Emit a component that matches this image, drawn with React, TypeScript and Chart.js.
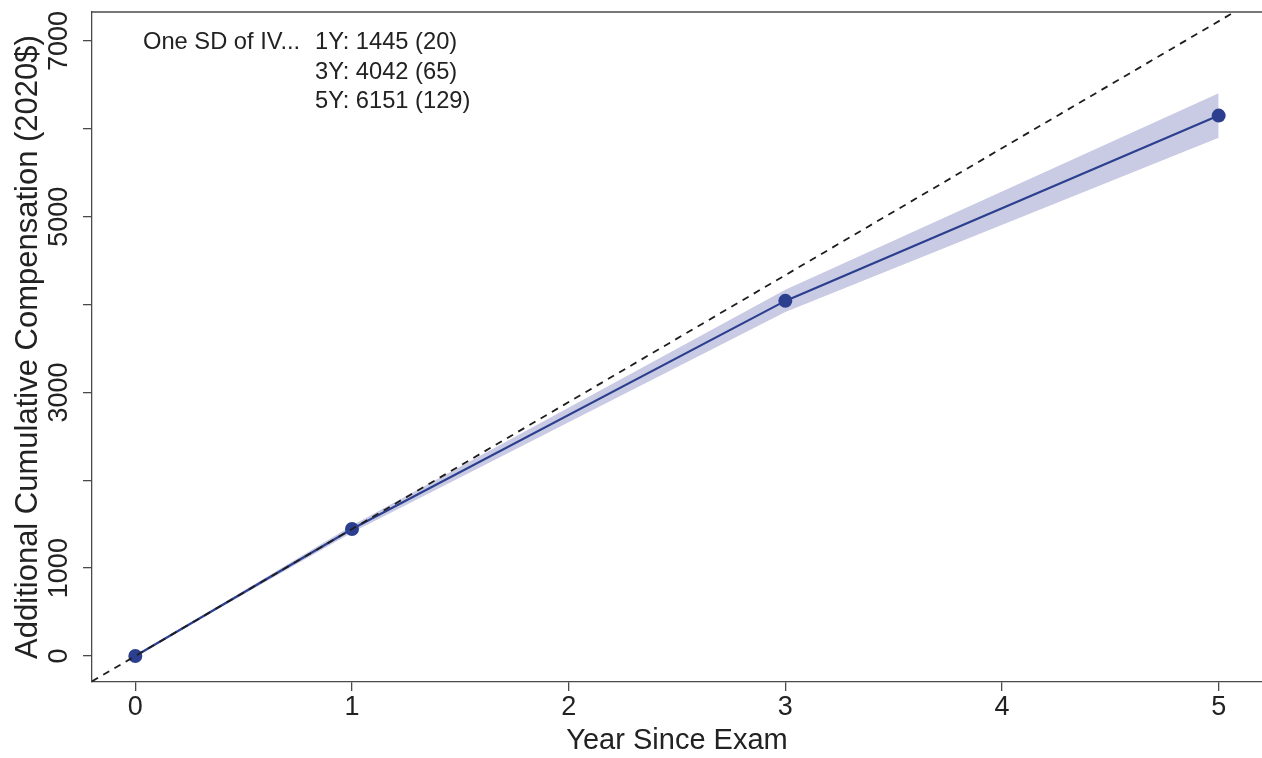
import React, { useEffect, useRef } from 'react';
import { Chart, registerables } from 'chart.js';

Chart.register(...registerables);

// ---- data ----
const years = [0, 1, 3, 5];
const estimates = [0, 1445, 4042, 6151];
const ciLower = [0, 1406, 3915, 5900];
const ciUpper = [0, 1484, 4169, 6404];

// 45-degree reference line (one SD per year), endpoints
const refLineX = [-0.2, 5.2];
const refLineY = [-289, 7514];

const xTicks = [0, 1, 2, 3, 4, 5];
const yTicks = [0, 1000, 2000, 3000, 4000, 5000, 6000, 7000];
const yTickLabels = [0, 1000, 3000, 5000, 7000];

const noteLabel = 'One SD of IV...';
const noteLines = ['1Y: 1445 (20)', '3Y: 4042 (65)', '5Y: 6151 (129)'];

const xTitle = 'Year Since Exam';
const yTitle = 'Additional Cumulative Compensation (2020$)';

const FONT = '"Liberation Sans", Arial, Helvetica, sans-serif';
const NAVY = '#2b3f8e';
const BAND = '#c9cae3';
const AXIS = '#4a4a4a';
const TEXT = '#222222';

const overlay = {
  id: 'overlay',
  afterDraw(chart: any) {
    const { ctx, chartArea, scales } = chart;
    ctx.save();
    ctx.strokeStyle = AXIS;
    ctx.lineWidth = 1.3;
    ctx.beginPath();
    ctx.moveTo(chartArea.left, chartArea.top);
    ctx.lineTo(chartArea.right, chartArea.top);
    ctx.stroke();

    ctx.fillStyle = TEXT;
    ctx.font = `27px ${FONT}`;
    ctx.textAlign = 'center';
    ctx.textBaseline = 'middle';
    yTickLabels.forEach((v) => {
      const y = scales.y.getPixelForValue(v);
      ctx.save();
      ctx.translate(60, y);
      ctx.rotate(-Math.PI / 2);
      ctx.fillText(String(v), 0, 0);
      ctx.restore();
    });

    ctx.font = `23.7px ${FONT}`;
    ctx.textAlign = 'left';
    ctx.textBaseline = 'alphabetic';
    const left = chartArea.left;
    const top = chartArea.top;
    ctx.fillText(noteLabel, left + 51, top + 37);
    noteLines.forEach((t, i) => {
      ctx.fillText(t, left + 223, top + 37 + i * 29.5);
    });
    ctx.restore();
  },
};

export default function App() {
  const ref = useRef<HTMLCanvasElement | null>(null);

  useEffect(() => {
    if (!ref.current) return;
    const chart = new Chart(ref.current, {
      type: 'line',
      data: {
        datasets: [
          {
            label: 'ref',
            data: refLineX.map((x, i) => ({ x, y: refLineY[i] })),
            borderColor: '#1e1e1e',
            borderWidth: 1.8,
            borderDash: [7, 6],
            pointRadius: 0,
            fill: false,
            order: 0,
          },
          {
            label: 'estimate',
            data: years.map((x, i) => ({ x, y: estimates[i] })),
            borderColor: NAVY,
            backgroundColor: NAVY,
            borderWidth: 2.2,
            pointRadius: 7,
            pointBackgroundColor: NAVY,
            pointBorderWidth: 0,
            fill: false,
            order: 1,
          },
          {
            label: 'upper',
            data: years.map((x, i) => ({ x, y: ciUpper[i] })),
            borderWidth: 0,
            borderColor: 'rgba(0,0,0,0)',
            backgroundColor: BAND,
            pointRadius: 0,
            fill: '+1',
            order: 2,
          },
          {
            label: 'lower',
            data: years.map((x, i) => ({ x, y: ciLower[i] })),
            borderWidth: 0,
            borderColor: 'rgba(0,0,0,0)',
            pointRadius: 0,
            fill: false,
            order: 3,
          },
        ],
      },
      options: {
        animation: false,
        responsive: false,
        events: [],
        layout: { autoPadding: false, padding: { top: 12, right: 0, left: 0, bottom: 0 } },
        plugins: {
          legend: { display: false },
          tooltip: { enabled: false },
        },
        scales: {
          x: {
            type: 'linear',
            min: -0.2,
            max: 5.2,
            afterBuildTicks: (scale: any) => {
              scale.ticks = xTicks.map((v) => ({ value: v }));
            },
            afterFit: (scale: any) => {
              scale.height = 76;
              scale.paddingLeft = 0;
              scale.paddingRight = 0;
            },
            ticks: {
              color: TEXT,
              font: { family: FONT, size: 27 },
              padding: 0,
              maxRotation: 0,
              autoSkip: false,
              callback: (v: any) => String(v),
            },
            grid: {
              drawOnChartArea: false,
              drawTicks: true,
              tickLength: 9,
              color: AXIS,
              lineWidth: 1.3,
            },
            border: { display: true, color: AXIS, width: 1.3 },
            title: {
              display: true,
              text: xTitle,
              color: TEXT,
              font: { family: FONT, size: 29 },
              padding: { top: 0, bottom: 0 },
            },
          },
          y: {
            type: 'linear',
            min: -296,
            max: 7330,
            afterBuildTicks: (scale: any) => {
              scale.ticks = yTicks.map((v) => ({ value: v }));
            },
            afterFit: (scale: any) => {
              scale.width = 92;
              scale.paddingTop = 0;
              scale.paddingBottom = 0;
            },
            ticks: { display: false },
            grid: {
              drawOnChartArea: false,
              drawTicks: true,
              tickLength: 9,
              color: AXIS,
              lineWidth: 1.3,
            },
            border: { display: true, color: AXIS, width: 1.3 },
            title: {
              display: true,
              text: yTitle,
              color: TEXT,
              font: { family: FONT, size: 31 },
              padding: { top: 10, bottom: 0 },
            },
          },
        },
      },
      plugins: [overlay],
    } as any);
    return () => chart.destroy();
  }, []);

  return (
    <div style={{ position: 'absolute', left: 0, top: 0, width: 1262, height: 758, background: '#fff' }}>
      <canvas ref={ref} width={1262} height={758} style={{ display: 'block' }} />
    </div>
  );
}
